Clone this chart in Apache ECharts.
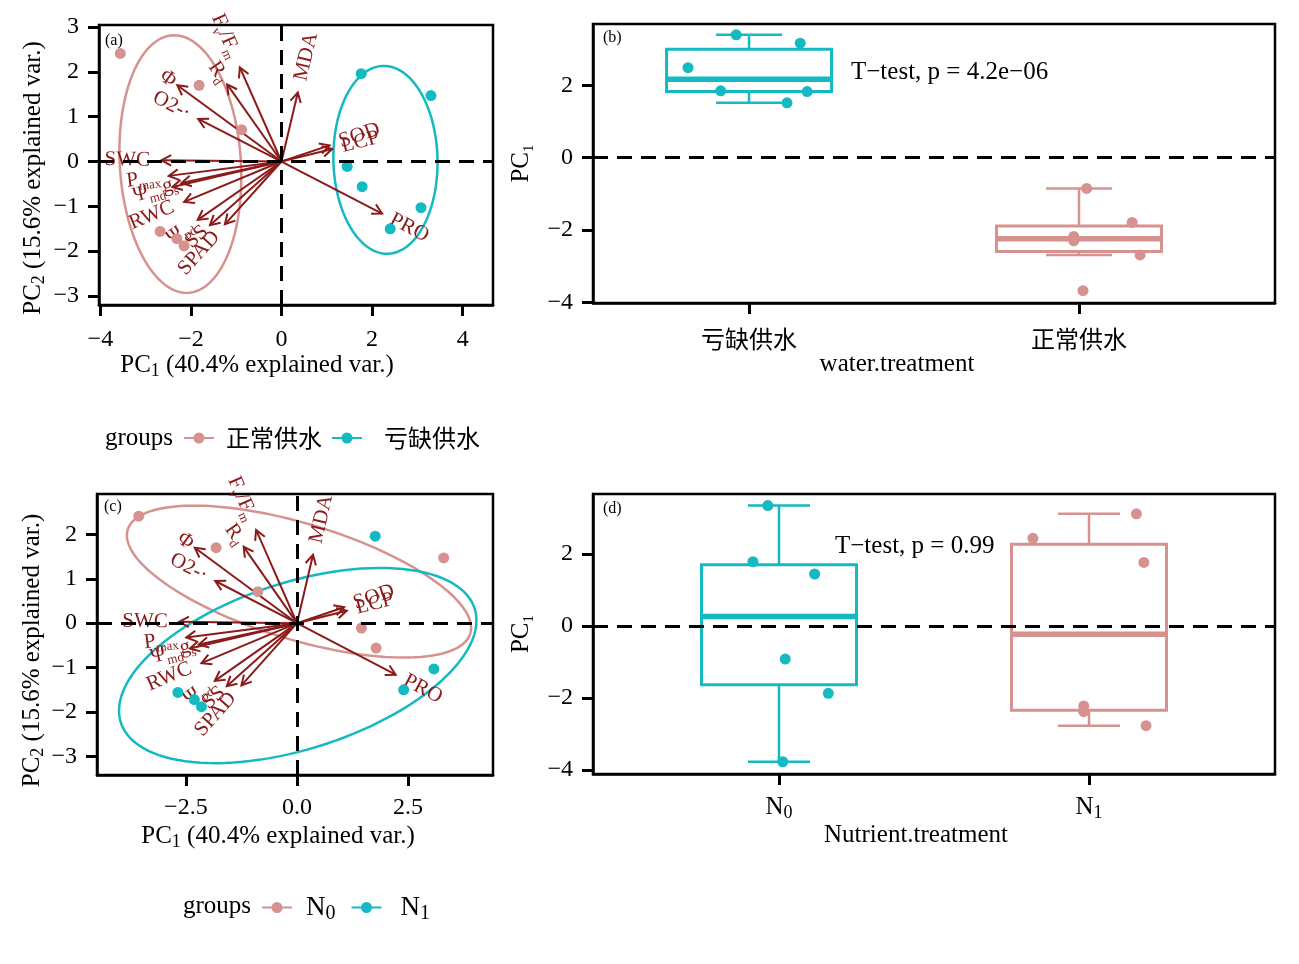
<!DOCTYPE html>
<html><head><meta charset="utf-8">
<script src="https://cdn.jsdelivr.net/npm/echarts@6/dist/echarts.min.js"></script>
<style>html,body{margin:0;padding:0;background:#fff}#c{width:1299px;height:964px}</style>
</head><body><div id="c"></div>
<script>
// ================= DATA =================
// PCA scores (PC1, PC2) of the 12 samples
const pcaX = [-3.56, -1.82, -0.88, -2.68, -2.31, -2.15, 1.76, 3.30, 1.45, 1.78, 3.08, 2.40];
const pcaY = [2.41, 1.70, 0.71, -1.56, -1.72, -1.88, 1.96, 1.47, -0.11, -0.56, -1.03, -1.50];
const waterGroup = ['正常供水','正常供水','正常供水','正常供水','正常供水','正常供水','亏缺供水','亏缺供水','亏缺供水','亏缺供水','亏缺供水','亏缺供水'];
const nutrientGroup = ['N0','N0','N0','N1','N1','N1','N1','N0','N0','N0','N1','N1'];
const waterLegend = ['正常供水', '亏缺供水'];
const nutrientLegend = ['N0', 'N1'];

// variable loadings (arrows)
const varLabels = ['{n|F}{s|v}{n|/F}{s|m}', '{n|R}{s|d}', '{n|Φ}', '{n|O2-·}', '{n|MDA}', '{n|SOD}', '{n|LCP}', '{n|PRO}',
                   '{n|SWC}', '{n|P}{s|max}', '{n|Ψ}{s|md}', '{n|g}{s|s}', '{n|RWC}', '{n|Ψ}{s|pd}', '{n|SS}', '{n|SPAD}'];
const loadX = [-0.92, -1.20, -2.30, -1.84, 0.36, 1.06, 1.12, 2.22, -2.65, -2.49, -2.41, -2.21, -2.15, -1.85, -1.58, -1.25];
const loadY = [ 2.10,  1.72,  1.70,  0.95, 1.54, 0.36, 0.28, -1.16, 0.03, -0.32, -0.57, -0.48, -0.90, -1.30, -1.42, -1.40];

// panel (b): PC1 by water treatment
const waterCats = ['亏缺供水', '正常供水'];
const deficitPC1 = [3.40, 3.17, 2.49, 1.85, 1.83, 1.52];
const deficitJitter = [-0.039, 0.155, -0.185, -0.086, 0.176, 0.115];
const normalPC1 = [-0.85, -1.79, -2.18, -2.30, -2.69, -3.68];
const normalJitter = [0.023, 0.161, -0.016, -0.016, 0.185, 0.012];

// panel (d): PC1 by nutrient treatment
const nutrientCats = ['N0', 'N1'];
const n0PC1 = [3.34, 1.78, 1.44, -0.92, -1.87, -3.77];
const n0Jitter = [-0.036, -0.084, 0.115, 0.020, 0.159, 0.012];
const n1PC1 = [2.43, 3.11, 1.76, -2.22, -2.38, -2.77];
const n1Jitter = [-0.181, 0.153, 0.177, -0.017, -0.017, 0.184];

// tick values
const ticksAX = [-4, -2, 0, 2, 4];
const ticksAY = [-3, -2, -1, 0, 1, 2, 3];
const ticksCX = [-2.5, 0, 2.5];
const ticksCY = [-3, -2, -1, 0, 1, 2];
const ticksBoxY = [-4, -2, 0, 2];
const ticksCat = [1, 2];

// ================= STYLE =================
const FONT = '"Liberation Serif", "Times New Roman", serif';
const CJK = '"Noto Sans CJK SC", sans-serif';
const PINK = '#D6928F', CYAN = '#14B9C1', DARKRED = '#8B1A1A';
const LBL = 21, LBLS = 13;
const richSub = (fs, sfs) => ({
  n: {fontSize: fs, fontFamily: FONT, color: '#000', lineHeight: fs + 5},
  s: {fontSize: sfs, fontFamily: FONT, color: '#000', verticalAlign: 'bottom', lineHeight: sfs}
});
const minus = s => String(s).replace('-', '−');
const subName = s => '{n|' + s[0] + '}{s|' + s.slice(1) + '}';

// ================= HELPERS =================
function pick(arr, groups, g) { return arr.filter((_, i) => groups[i] === g); }
function ellipse(xs, ys) {
  const n = xs.length;
  const mx = xs.reduce((a, b) => a + b, 0) / n, my = ys.reduce((a, b) => a + b, 0) / n;
  let sxx = 0, syy = 0, sxy = 0;
  for (let i = 0; i < n; i++) { sxx += (xs[i]-mx)**2; syy += (ys[i]-my)**2; sxy += (xs[i]-mx)*(ys[i]-my); }
  sxx /= n - 1; syy /= n - 1; sxy /= n - 1;
  const a = Math.sqrt(sxx), b = sxy / a, c = Math.sqrt(syy - b * b);
  const ed = Math.sqrt(-2 * Math.log(1 - 0.68));
  const pts = [];
  for (let k = 0; k <= 120; k++) {
    const t = 2 * Math.PI * k / 120, ct = Math.cos(t), st = Math.sin(t);
    pts.push([mx + ed * a * ct, my + ed * (b * ct + c * st)]);
  }
  return pts;
}
function quant(sorted, p) {
  const h = (sorted.length - 1) * p, lo = Math.floor(h);
  const hiV = sorted[Math.min(lo + 1, sorted.length - 1)];
  return sorted[lo] + (h - lo) * (hiV - sorted[lo]);
}
function boxStats(cat, arr) {
  const s = [...arr].sort((a, b) => a - b);
  const q1 = quant(s, 0.25), med = quant(s, 0.5), q3 = quant(s, 0.75), iqr = q3 - q1;
  const lo = Math.min(...s.filter(v => v >= q1 - 1.5 * iqr));
  const hi = Math.max(...s.filter(v => v <= q3 + 1.5 * iqr));
  return [cat, lo, q1, med, q3, hi];
}
const measureCtx = document.createElement('canvas').getContext('2d');
function textWidth(rich) {
  let w = 0;
  rich.replace(/\{(\w+)\|([^}]*)\}/g, (m, k, t) => {
    measureCtx.font = (k === 's' ? LBLS : LBL) + 'px "Liberation Serif"';
    w += measureCtx.measureText(t).width; return '';
  });
  return w;
}
function arrowRender(params, api) {
  const i = api.value(2);
  const o = api.coord([0, 0]), t = api.coord([api.value(0), api.value(1)]);
  const dx = t[0] - o[0], dy = t[1] - o[1];
  const L = Math.hypot(dx, dy), ux = dx / L, uy = dy / L;
  const h = 11, a = 0.5, ca = Math.cos(a), sa = Math.sin(a);
  const b1 = [t[0] - h * (ux * ca - uy * sa), t[1] - h * (ux * sa + uy * ca)];
  const b2 = [t[0] - h * (ux * ca + uy * sa), t[1] - h * (-ux * sa + uy * ca)];
  const theta = Math.atan(-dy / dx);
  const pad = 0.25 * textWidth(varLabels[i]);
  const right = dx < 0;
  return {type: 'group', children: [
    {type: 'line', shape: {x1: o[0], y1: o[1], x2: t[0], y2: t[1]}, style: {stroke: DARKRED, lineWidth: 2}},
    {type: 'polyline', shape: {points: [b1, t, b2]}, style: {stroke: DARKRED, lineWidth: 2, fill: null}},
    {type: 'text', x: t[0], y: t[1], rotation: theta,
     style: {text: varLabels[i], x: right ? -pad : pad, y: 0, align: right ? 'right' : 'left', verticalAlign: 'middle',
             fill: DARKRED, fontSize: LBL, fontFamily: FONT,
             rich: {n: {fontSize: LBL, fontFamily: FONT, fill: DARKRED, lineHeight: LBL + 6},
                    s: {fontSize: LBLS, fontFamily: FONT, fill: DARKRED, verticalAlign: 'bottom', lineHeight: LBLS}}}}
  ]};
}
function boxRender(colors) {
  return function (params, api) {
    const c = api.value(0), lo = api.value(1), q1 = api.value(2), med = api.value(3), q3 = api.value(4), hi = api.value(5);
    const col = colors[params.dataIndex];
    const p = (x, y) => api.coord([x, y]);
    const ln = (a, b, w) => ({type: 'line', shape: {x1: a[0], y1: a[1], x2: b[0], y2: b[1]}, style: {stroke: col, lineWidth: w}});
    const tl = p(c - 0.25, q3), br = p(c + 0.25, q1);
    return {type: 'group', children: [
      ln(p(c, q3), p(c, hi), 2.5), ln(p(c, q1), p(c, lo), 2.5),
      ln(p(c - 0.1, hi), p(c + 0.1, hi), 2.5), ln(p(c - 0.1, lo), p(c + 0.1, lo), 2.5),
      {type: 'rect', shape: {x: tl[0], y: tl[1], width: br[0] - tl[0], height: br[1] - tl[1]},
       style: {stroke: col, lineWidth: 3, fill: 'none'}},
      ln(p(c - 0.25, med), p(c + 0.25, med), 5.5)
    ]};
  };
}

// ================= AXES =================
function valueAxis(gi, min, max, ticks, fmt, extra) {
  return Object.assign({
    gridIndex: gi, type: 'value', min, max,
    splitLine: {show: false},
    axisLine: {show: true, onZero: false, lineStyle: {color: '#000', width: 2.5}},
    axisTick: {show: true, length: 11, customValues: ticks, lineStyle: {color: '#000', width: 3}},
    axisLabel: {customValues: ticks, formatter: fmt, color: '#000', fontFamily: FONT, fontSize: 24, margin: 22},
    nameLocation: 'middle'
  }, extra);
}
const mergeLabel = (ax, obj) => { Object.assign(ax.axisLabel, obj); return ax; };

const xAxes = [
  mergeLabel(valueAxis(0, -4.03, 4.67, ticksAX, v => minus(v), {
    name: '{n|PC}{s|1}{n| (40.4% explained var.)}', nameGap: 42,
    nameTextStyle: {rich: richSub(25, 18), padding: [0, 78, 0, 0]}}), {margin: 23}),
  mergeLabel(valueAxis(1, 0.527, 2.594, ticksCat, v => waterCats[v - 1], {
    name: 'water.treatment', nameGap: 48,
    nameTextStyle: {fontFamily: FONT, fontSize: 25, color: '#000', padding: [0, 74, 0, 0]}}),
    {fontFamily: CJK, fontSize: 24, margin: 24}),
  mergeLabel(valueAxis(2, -4.50, 4.41, ticksCX, v => minus(v.toFixed(1)), {
    name: '{n|PC}{s|1}{n| (40.4% explained var.)}', nameGap: 46,
    nameTextStyle: {rich: richSub(25, 18), padding: [0, 34, 0, 0]}}), {margin: 21}),
  mergeLabel(valueAxis(3, 0.4, 2.6, ticksCat, v => subName(nutrientCats[v - 1]), {
    name: 'Nutrient.treatment', nameGap: 47,
    nameTextStyle: {fontFamily: FONT, fontSize: 25, color: '#000', padding: [0, 36, 0, 0]}}),
    {margin: 18, rich: richSub(25, 18)})
];
const yAxes = [
  valueAxis(0, -3.20, 3.045, ticksAY, v => minus(v), {
    name: '{n|PC}{s|2}{n| (15.6% explained var.)}', nameGap: 51,
    nameTextStyle: {rich: richSub(25, 18), padding: [0, 26, 0, 0]}}),
  valueAxis(1, -4.02, 3.70, ticksBoxY, v => minus(v), {
    name: '{n|PC}{s|1}', nameGap: 53, nameTextStyle: {rich: richSub(25, 15)}}),
  valueAxis(2, -3.42, 2.91, ticksCY, v => minus(v), {
    name: '{n|PC}{s|2}{n| (15.6% explained var.)}', nameGap: 49,
    nameTextStyle: {rich: richSub(25, 18), padding: [0, 32, 0, 0]}}),
  valueAxis(3, -4.11, 3.66, ticksBoxY, v => minus(v), {
    name: '{n|PC}{s|1}', nameGap: 53, nameTextStyle: {rich: richSub(25, 15)}})
];
yAxes.forEach(a => a.axisLabel.margin = 20);

const gridBase = {show: true, borderColor: '#000', borderWidth: 2.5, backgroundColor: 'transparent', containLabel: false, outerBoundsMode: 'none'};
const grids = [
  Object.assign({left: 99, top: 25, width: 394, height: 280}, gridBase),
  Object.assign({left: 593, top: 24, width: 682, height: 279}, gridBase),
  Object.assign({left: 97, top: 494, width: 396, height: 281}, gridBase),
  Object.assign({left: 593, top: 494, width: 682, height: 280}, gridBase)
];

const dashLine = (data) => ({silent: true, symbol: ['none', 'none'], label: {show: false},
  lineStyle: {color: '#000', type: [15, 9], width: 3}, emphasis: {disabled: true}, data});

// ================= SERIES =================
const series = [];
function pcaPanel(ai, groups, names, colors) {
  names.forEach((g, k) => {
    series.push({type: 'line', name: 'ellipse-' + ai + '-' + g, xAxisIndex: ai, yAxisIndex: ai, z: 2,
      data: ellipse(pick(pcaX, groups, g), pick(pcaY, groups, g)), showSymbol: false, symbol: 'none',
      lineStyle: {color: colors[k], width: 2.5}, silent: true, animation: false});
  });
  series.push({type: 'custom', name: 'loadings-' + ai, xAxisIndex: ai, yAxisIndex: ai, z: 3, silent: true,
    renderItem: arrowRender, data: loadX.map((x, i) => [x, loadY[i], i])});
  names.forEach((g, k) => {
    const s = {type: 'scatter', name: g, xAxisIndex: ai, yAxisIndex: ai, z: 4, symbolSize: 11,
      itemStyle: {color: colors[k], opacity: 1},
      data: pcaX.map((x, i) => [x, pcaY[i], groups[i]]).filter(d => d[2] === g).map(d => [d[0], d[1]])};
    if (k === 0) s.markLine = dashLine([{xAxis: 0}, {yAxis: 0}]);
    series.push(s);
  });
}
pcaPanel(0, waterGroup, waterLegend, [PINK, CYAN]);
pcaPanel(2, nutrientGroup, nutrientLegend, [PINK, CYAN]);

function boxPanel(ai, groupsVals, groupsJit, colors, tag) {
  series.push({type: 'custom', name: 'box-' + tag, xAxisIndex: ai, yAxisIndex: ai, z: 2, silent: true,
    renderItem: boxRender(colors), data: groupsVals.map((v, k) => boxStats(k + 1, v))});
  groupsVals.forEach((vals, k) => {
    const s = {type: 'scatter', name: 'points-' + tag + '-' + k, xAxisIndex: ai, yAxisIndex: ai, z: 4, symbolSize: 11,
      itemStyle: {color: colors[k], opacity: 1}, silent: true,
      data: vals.map((v, i) => [k + 1 + groupsJit[k][i], v])};
    if (k === 0) s.markLine = dashLine([{yAxis: 0}]);
    series.push(s);
  });
}
boxPanel(1, [deficitPC1, normalPC1], [deficitJitter, normalJitter], [CYAN, PINK], 'water');
boxPanel(3, [n0PC1, n1PC1], [n0Jitter, n1Jitter], [CYAN, PINK], 'nutrient');

// ================= LEGENDS / TEXT =================
const ICON = 'path://M0,4.5L9.6,4.5L9.6,6.5L0,6.5Z M20.4,4.5L30,4.5L30,6.5L20.4,6.5Z M9.5,5.5A5.5,5.5,0,1,1,20.5,5.5A5.5,5.5,0,1,1,9.5,5.5Z';
const legends = [
  {left: 179, top: 421, padding: 5, orient: 'horizontal', itemWidth: 30, itemHeight: 11, itemGap: 10, icon: ICON, selectedMode: false,
   textStyle: {fontFamily: CJK, fontSize: 24, color: '#000'},
   data: [{name: waterLegend[0], textStyle: {padding: [0, 0, 0, 7]}}, {name: waterLegend[1], textStyle: {padding: [0, 0, 0, 17]}}]},
  {left: 257, top: 889, padding: 5, orient: 'horizontal', itemWidth: 30, itemHeight: 11, itemGap: 16, icon: ICON, selectedMode: false,
   formatter: name => subName(name),
   textStyle: {fontFamily: FONT, fontSize: 27, color: '#000', rich: richSub(27, 20)},
   data: [{name: nutrientLegend[0], textStyle: {padding: [0, 0, 0, 9]}}, {name: nutrientLegend[1], textStyle: {padding: [0, 0, 0, 14]}}]}
];
const txt = (x, y, text, size) => ({type: 'text', x, y, silent: true,
  style: {text, fill: '#000', fontFamily: FONT, fontSize: size, align: 'left', verticalAlign: 'middle'}});
const graphics = [
  txt(105, 41, '(a)', 16), txt(603, 38, '(b)', 16), txt(104, 507, '(c)', 16), txt(603, 509, '(d)', 16),
  txt(851, 72, 'T−test, p = 4.2e−06', 25), txt(835, 546, 'T−test, p = 0.99', 25),
  txt(105, 438, 'groups', 25), txt(183, 906, 'groups', 25)
];

const chart = echarts.init(document.getElementById('c'), null, {renderer: 'canvas', width: 1299, height: 964});
chart.setOption({
  animation: false,
  backgroundColor: '#fff',
  grid: grids, xAxis: xAxes, yAxis: yAxes,
  legend: legends, graphic: graphics, series
});
</script>
</body></html>
